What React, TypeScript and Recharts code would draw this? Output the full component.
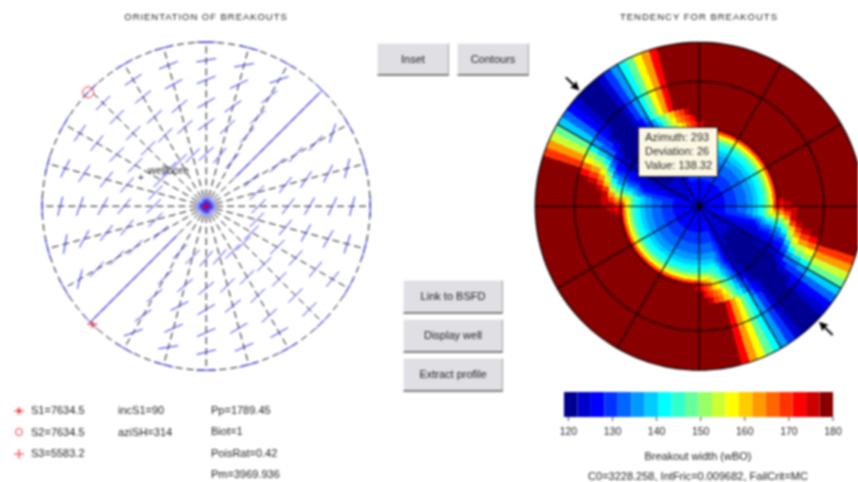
import { Bar, BarChart, Cell, Pie, PieChart, Scatter, ScatterChart, XAxis, YAxis } from 'recharts'

const FONT = '"Liberation Sans", Arial, sans-serif'

// left stereonet: spokes every 15 deg, tick rows at these projected radii
const spokeAzimuths = [0, 15, 30, 45, 60, 75, 90, 105, 120, 135, 150, 165, 180, 195, 210, 225, 240, 255, 270, 285, 300, 315, 330, 345]
const tickRadii = [1, 0.89, 0.77, 0.63, 0.5, 0.32]
const tickTrends = [
  [90, 80, 68, 60, 55, 48],
  [105, 80, 64, 55, 47, 40],
  [120, 71, 51, 48, 42, 42],
  [135, 45, 45, 45, 45, 45],
  [150, 18, 42, 42, 45, 48],
  [165, 14, 27, 34, 38, 45],
  [0, 15, 25, 30, 38, 45],
  [15, 18, 30, 29, 40, 45],
  [30, 40, 40, 42, 45, 45],
  [45, 45, 45, 45, 45, 45],
  [60, 60, 48, 45, 45, 45],
  [75, 66, 59, 51, 45, 41],
  [90, 76, 66, 59, 51, 40],
  [105, 81, 66, 63, 50, 45],
  [120, 70, 55, 50, 45, 45],
  [135, 45, 45, 45, 45, 45],
  [150, 14, 42, 45, 45, 48],
  [165, 10, 29, 38, 39, 45],
  [0, 14, 20, 30, 40, 45],
  [15, 27, 34, 39, 42, 45],
  [30, 35, 39, 45, 45, 45],
  [45, 45, 45, 45, 45, 45],
  [60, 56, 51, 48, 45, 45],
  [75, 68, 61, 50, 48, 45],
]
const coreRadii = [0.012, 0.028, 0.044]
const alignedAzimuths = [45, 225]
const alignedSpan = [0.24, 1]
const stressMarks = [
  { name: 'S1', az: 0, r: 0 },
  { name: 'S2', az: 314, r: 1 },
  { name: 'S3', az: 224, r: 1 },
]

// right map: breakout width per ring, 3 deg sectors over azimuth 0-180
// (the map repeats for azimuth 180-360)
const ringEdges = [0, 0.08, 0.16, 0.23, 0.29, 0.33, 0.36, 0.385, 0.41, 0.43, 0.45, 0.465, 0.48, 0.52, 0.56, 0.6, 0.64, 0.7, 0.76, 0.88, 1]
const ring01 = [
  127, 127, 127, 127, 127, 127, 127, 127, 127, 127, 127, 127, 127, 127, 127, 127, 127, 127, 127, 127,
  127, 127, 127, 127, 127, 127, 127, 127, 127, 127, 127, 127, 127, 127, 127, 127, 127, 127, 126, 126,
  126, 126, 126, 126, 126, 126, 126, 126, 126, 126, 126, 127, 127, 127, 127, 127, 127, 127, 127, 127,
]
const ring02 = [
  127, 127, 127, 127, 127, 127, 127, 127, 127, 127, 127, 127, 127, 127, 127, 127, 127, 127, 127, 127,
  127, 127, 127, 127, 127, 127, 127, 127, 127, 127, 127, 127, 127, 127, 127, 127, 126, 125, 125, 124,
  124, 124, 124, 124, 124, 124, 124, 124, 124, 125, 125, 126, 127, 127, 127, 127, 127, 127, 127, 127,
]
const ring03 = [
  129, 129, 129, 129, 129, 129, 129, 129, 129, 129, 129, 129, 129, 129, 129, 129, 129, 129, 129, 129,
  129, 129, 129, 129, 129, 129, 129, 129, 129, 129, 129, 129, 129, 129, 129, 128, 126, 125, 124, 124,
  123, 123, 123, 123, 123, 123, 123, 123, 124, 124, 125, 126, 128, 129, 129, 129, 129, 129, 129, 129,
]
const ring04 = [
  132, 132, 132, 132, 132, 132, 132, 132, 132, 132, 132, 132, 132, 132, 132, 132, 132, 132, 132, 132,
  132, 132, 132, 132, 132, 132, 132, 132, 132, 132, 132, 132, 132, 131, 129, 128, 126, 125, 124, 123,
  123, 122, 122, 122, 122, 122, 122, 122, 123, 124, 125, 127, 129, 131, 132, 132, 132, 132, 132, 132,
]
const ring05 = [
  135, 135, 135, 135, 135, 135, 135, 135, 135, 135, 135, 135, 135, 135, 135, 135, 135, 135, 135, 135,
  135, 135, 135, 135, 135, 135, 135, 135, 135, 135, 135, 135, 135, 133, 130, 128, 126, 125, 124, 123,
  122, 122, 121, 121, 121, 121, 121, 121, 122, 123, 124, 126, 129, 132, 135, 135, 135, 135, 135, 135,
]
const ring06 = [
  138, 138, 138, 138, 138, 138, 138, 138, 138, 138, 138, 138, 138, 138, 138, 138, 138, 138, 138, 138,
  138, 138, 138, 138, 138, 138, 138, 138, 138, 138, 138, 138, 138, 135, 131, 128, 126, 125, 124, 123,
  122, 122, 121, 121, 120, 120, 120, 121, 122, 123, 125, 127, 130, 133, 137, 138, 138, 138, 138, 138,
]
const ring07 = [
  141, 141, 141, 141, 141, 141, 141, 141, 141, 141, 141, 141, 141, 141, 141, 141, 141, 141, 141, 141,
  141, 141, 141, 141, 141, 141, 141, 141, 141, 141, 141, 141, 141, 137, 133, 129, 127, 125, 124, 123,
  122, 122, 121, 121, 120, 120, 120, 121, 122, 123, 125, 128, 131, 135, 139, 141, 141, 141, 141, 141,
]
const ring08 = [
  145, 145, 145, 145, 145, 145, 145, 145, 145, 145, 145, 145, 145, 145, 145, 145, 145, 145, 145, 145,
  145, 145, 145, 145, 145, 145, 145, 145, 145, 145, 145, 145, 145, 140, 136, 132, 129, 127, 125, 124,
  123, 122, 121, 121, 120, 120, 120, 121, 122, 124, 126, 129, 133, 137, 141, 144, 145, 145, 145, 145,
]
const ring09 = [
  152, 152, 152, 152, 152, 152, 152, 152, 152, 152, 152, 152, 152, 152, 152, 152, 152, 152, 152, 152,
  152, 152, 152, 152, 152, 152, 152, 152, 152, 152, 152, 152, 152, 143, 138, 133, 130, 127, 125, 124,
  123, 122, 121, 121, 120, 120, 120, 121, 122, 124, 127, 131, 135, 139, 143, 146, 149, 151, 152, 152,
]
const ring10 = [
  158, 158, 158, 158, 158, 158, 158, 158, 158, 158, 158, 158, 158, 158, 158, 158, 158, 158, 158, 158,
  158, 158, 158, 158, 158, 158, 158, 158, 158, 158, 158, 158, 151, 144, 139, 134, 130, 128, 126, 124,
  123, 122, 121, 121, 120, 120, 120, 121, 122, 125, 128, 132, 136, 140, 145, 149, 152, 155, 157, 158,
]
const ring11 = [
  165, 165, 165, 165, 165, 165, 165, 165, 165, 165, 165, 165, 165, 165, 165, 165, 165, 165, 165, 165,
  165, 165, 165, 165, 165, 165, 165, 165, 165, 165, 165, 160, 153, 146, 140, 135, 131, 128, 126, 124,
  123, 122, 121, 120, 120, 120, 120, 121, 123, 125, 129, 133, 137, 142, 147, 151, 155, 159, 162, 164,
]
const ring12 = [
  171, 171, 171, 171, 171, 171, 171, 171, 171, 171, 171, 171, 171, 171, 171, 171, 171, 171, 171, 171,
  171, 171, 171, 171, 171, 171, 171, 171, 171, 171, 170, 163, 155, 147, 141, 136, 132, 129, 127, 125,
  123, 122, 121, 120, 120, 120, 120, 121, 123, 126, 130, 134, 139, 144, 149, 154, 158, 162, 166, 169,
]
const ring13 = [
  175, 178, 180, 180, 180, 180, 180, 180, 180, 180, 180, 180, 180, 180, 180, 180, 180, 180, 180, 180,
  180, 180, 180, 180, 180, 180, 180, 178, 175, 172, 168, 162, 155, 147, 141, 136, 132, 129, 127, 125,
  123, 122, 121, 120, 120, 120, 120, 121, 124, 127, 131, 136, 141, 147, 152, 157, 161, 165, 169, 172,
]
const ring14 = [
  178, 180, 180, 180, 180, 180, 180, 180, 180, 180, 180, 180, 180, 180, 180, 180, 180, 180, 180, 180,
  180, 180, 180, 180, 180, 180, 180, 180, 178, 175, 174, 170, 162, 155, 148, 141, 135, 131, 128, 126,
  124, 122, 121, 120, 120, 120, 120, 122, 125, 129, 134, 140, 146, 152, 157, 162, 166, 169, 173, 177,
]
const ring15 = [
  180, 180, 180, 180, 180, 180, 180, 180, 180, 180, 180, 180, 180, 180, 180, 180, 180, 180, 180, 180,
  180, 180, 180, 180, 180, 180, 180, 180, 178, 178, 176, 176, 176, 168, 161, 154, 147, 140, 134, 130,
  127, 124, 122, 121, 120, 120, 120, 123, 126, 130, 136, 142, 149, 155, 161, 166, 170, 174, 178, 180,
]
const ring16 = [
  180, 180, 180, 180, 180, 180, 180, 180, 180, 180, 180, 180, 180, 180, 180, 180, 180, 180, 180, 180,
  180, 180, 180, 180, 180, 180, 180, 180, 180, 180, 180, 180, 180, 176, 170, 164, 157, 150, 143, 137,
  132, 128, 124, 122, 120, 120, 121, 124, 128, 133, 141, 148, 156, 164, 172, 177, 180, 180, 180, 180,
]
const ring17 = [
  180, 180, 180, 180, 180, 180, 180, 180, 180, 180, 180, 180, 180, 180, 180, 180, 180, 180, 180, 180,
  180, 180, 180, 180, 180, 180, 180, 180, 180, 180, 180, 180, 180, 180, 176, 170, 163, 155, 147, 140,
  134, 129, 125, 122, 121, 120, 121, 125, 130, 135, 142, 149, 157, 164, 172, 180, 180, 180, 180, 180,
]
const ring18 = [
  180, 180, 180, 180, 180, 180, 180, 180, 180, 180, 180, 180, 180, 180, 180, 180, 180, 180, 180, 180,
  180, 180, 180, 180, 180, 180, 180, 180, 180, 180, 180, 180, 180, 180, 180, 172, 165, 158, 150, 142,
  135, 129, 126, 123, 121, 120, 122, 125, 130, 135, 142, 149, 157, 164, 172, 180, 180, 180, 180, 180,
]
const ring19 = [
  180, 180, 180, 180, 180, 180, 180, 180, 180, 180, 180, 180, 180, 180, 180, 180, 180, 180, 180, 180,
  180, 180, 180, 180, 180, 180, 180, 180, 180, 180, 180, 180, 180, 180, 180, 180, 169, 162, 155, 147,
  140, 133, 128, 125, 122, 120, 122, 125, 130, 135, 142, 149, 157, 164, 172, 180, 180, 180, 180, 180,
]
const ringRows = [ring01, ring02, ring03, ring04, ring05, ring06, ring07, ring08, ring09, ring10, ring11, ring12, ring13, ring14, ring15, ring16, ring17, ring18, ring19, ring19]

const mapGridRadii = [0.48, 0.76, 1]
const mapSpokes = [0, 30, 60, 90, 120, 150, 180, 210, 240, 270, 300, 330]
const arrowAzimuths = [314, 134]

const jetColors = [
  '#000090', '#0000CC', '#0000FF', '#0033FF', '#0066FF', '#0099FF', '#00CCFF', '#00FFFF', '#33FFCC', '#66FF99',
  '#99FF66', '#CCFF33', '#FFFF00', '#FFCC00', '#FF9900', '#FF6600', '#FF3300', '#FF0000', '#CC0000', '#880000',
]
const colorTicks = [120, 130, 140, 150, 160, 170, 180]
const colorStart = 119
const colorStep = 3.05

const stressLegend = ['S1=7634.5', 'S2=7634.5', 'S3=5583.2']
const orientationLegend = ['incS1=90', 'aziSH=314']
const rockLegend = ['Pp=1789.45', 'Biot=1', 'PoisRat=0.42', 'Pm=3969.936']
const tooltipLines = ['Azimuth: 293', 'Deviation: 26', 'Value: 138.32']

const colorOf = (v: number) => jetColors[Math.min(19, Math.floor((v - 120) / 3))]
const polar = (az: number, r: number) => {
  const a = (az * Math.PI) / 180
  return { x: r * Math.sin(a), y: r * Math.cos(a) }
}

const CHART = 344.4
const RADIUS = 164
const LIMIT = (CHART / 2 / RADIUS)

const unitCircle = Array.from({ length: 181 }, (_, i) => i * 2)

const tickData = tickTrends.flatMap((row, i) =>
  row.map((trend, j) => ({ ...polar(spokeAzimuths[i], tickRadii[j]), trend, len: 20 })),
)
const coreData = coreRadii.flatMap((r) =>
  spokeAzimuths.map((az) => ({ ...polar(az, r), trend: az, len: 6 })),
)

const TickMark = (props: any) => {
  const { cx, cy, payload } = props
  const a = (payload.trend * Math.PI) / 180
  const dx = (Math.sin(a) * payload.len) / 2
  const dy = (Math.cos(a) * payload.len) / 2
  return <line x1={cx - dx} y1={cy + dy} x2={cx + dx} y2={cy - dy} stroke="#2a2aee" strokeWidth={1} />
}

const StressMark = (props: any) => {
  const { cx, cy, payload } = props
  if (payload.name === 'S2') return <circle cx={cx} cy={cy} r={5.5} fill="none" stroke="#ee3333" strokeWidth={1} />
  if (payload.name === 'S3') return <path d={`M${cx - 5} ${cy}H${cx + 5}M${cx} ${cy - 4}V${cy + 4}`} stroke="#ee2222" strokeWidth={1.2} />
  return <path d={`M${cx - 3} ${cy}H${cx + 3}M${cx} ${cy - 3}V${cy + 3}M${cx - 2} ${cy - 2}L${cx + 2} ${cy + 2}M${cx - 2} ${cy + 2}L${cx + 2} ${cy - 2}`} stroke="#cc0033" strokeWidth={1.4} />
}

const ArrowMark = (props: any) => {
  const { cx, cy, payload } = props
  return (
    <g transform={`translate(${cx} ${cy}) rotate(${payload.az})`}>
      <path d="M0 0L-4.5 -9L-1 -8V-19H1V-8L4.5 -9Z" fill="#000" />
    </g>
  )
}

const Hidden = () => <g />

const PolarAxes = () => (
  <>
    <XAxis type="number" dataKey="x" domain={[-LIMIT, LIMIT]} hide />
    <YAxis type="number" dataKey="y" domain={[-LIMIT, LIMIT]} hide />
  </>
)

const Text = ({ x, y, size = 11, w, align = 'left', spacing = 0, children }: any) => (
  <div
    style={{
      position: 'absolute',
      left: x,
      top: y,
      width: w,
      fontSize: size,
      lineHeight: '12px',
      letterSpacing: spacing,
      color: '#222',
      textAlign: align,
      whiteSpace: 'nowrap',
    }}
  >
    {children}
  </div>
)

const Btn = ({ x, y, w, h, label }: any) => (
  <div
    style={{
      position: 'absolute',
      left: x,
      top: y,
      width: w,
      height: h,
      boxSizing: 'border-box',
      background: '#dfdfe4',
      borderTop: '1px solid #f4f4f6',
      borderLeft: '1px solid #f4f4f6',
      borderRight: '1px solid #a0a0a0',
      borderBottom: '2px solid #808080',
      color: '#222',
      fontSize: 11,
      lineHeight: `${h - 3}px`,
      textAlign: 'center',
    }}
  >
    {label}
  </div>
)

const LegendIcon = ({ y, kind }: any) => (
  <svg style={{ position: 'absolute', left: 13, top: y - 6 }} width={12} height={12}>
    {kind === 0 && <path d="M1 6H11M6 2V10M4 4L8 8M4 8L8 4" stroke="#ee2222" strokeWidth={1} />}
    {kind === 1 && <circle cx={6} cy={6} r={3.5} fill="none" stroke="#ee3333" />}
    {kind === 2 && <path d="M1 6H11M6 1V11" stroke="#ee2222" strokeWidth={1} />}
  </svg>
)

export default function App() {
  const colorRow: Record<string, number> = { offset: colorStart }
  jetColors.forEach((_, i) => {
    colorRow[`c${i}`] = colorStep
  })

  return (
    <div
      style={{
        position: 'absolute',
        left: 0,
        top: 0,
        width: 858,
        height: 482,
        overflow: 'hidden',
        background: '#fff',
        fontFamily: FONT,
        filter: 'blur(0.8px)',
      }}
    >
      <Text x={34} y={11} w={344} size={9.5} spacing={0.95} align="center">ORIENTATION OF BREAKOUTS</Text>
      <Text x={527} y={11} w={344} size={9.5} spacing={1} align="center">TENDENCY FOR BREAKOUTS</Text>

      {/* left stereonet */}
      <div style={{ position: 'absolute', left: 206.5 - CHART / 2, top: 206 - CHART / 2 }}>
        <ScatterChart width={CHART} height={CHART} margin={{ top: 0, right: 0, bottom: 0, left: 0 }}>
          {PolarAxes()}
          <Scatter
            data={unitCircle.map((az) => polar(az, 1))}
            line={{ stroke: '#111', strokeWidth: 1, strokeDasharray: '7 4' }}
            shape={Hidden}
            isAnimationActive={false}
          />
          {spokeAzimuths.map((az) => (
            <Scatter
              key={az}
              data={[polar(az, 0.06), polar(az, 1)]}
              line={{ stroke: '#111', strokeWidth: 1, strokeDasharray: '7 4' }}
              shape={Hidden}
              isAnimationActive={false}
            />
          ))}
          {alignedAzimuths.map((az) => (
            <Scatter
              key={az}
              data={alignedSpan.map((r) => polar(az, r))}
              line={{ stroke: '#2a2aee', strokeWidth: 1 }}
              shape={Hidden}
              isAnimationActive={false}
            />
          ))}
          <Scatter data={tickData} shape={TickMark} isAnimationActive={false} />
          <Scatter data={coreData} shape={TickMark} isAnimationActive={false} />
          <Scatter data={stressMarks.map((m) => ({ ...m, ...polar(m.az, m.r) }))} shape={StressMark} isAnimationActive={false} />
        </ScatterChart>
      </div>
      <Text x={148} y={164}>wellbore</Text>
      <Text x={138} y={172} size={10}>+</Text>

      {/* right map */}
      <div style={{ position: 'absolute', left: 699.3 - CHART / 2, top: 206 - CHART / 2 }}>
        <PieChart width={CHART} height={CHART} margin={{ top: 0, right: 0, bottom: 0, left: 0 }}>
          {ringRows.map((row, i) => {
            const cells = [...row, ...row]
            return (
              <Pie
                key={i}
                data={cells.map((value) => ({ value, span: 1 }))}
                dataKey="span"
                cx="50%"
                cy="50%"
                innerRadius={ringEdges[i] * RADIUS}
                outerRadius={ringEdges[i + 1] * RADIUS}
                startAngle={90}
                endAngle={-270}
                stroke="none"
                shapeRendering="crispEdges"
                isAnimationActive={false}
              >
                {cells.map((v, j) => (
                  <Cell key={j} fill={colorOf(v)} stroke="none" shapeRendering="crispEdges" />
                ))}
              </Pie>
            )
          })}
        </PieChart>
      </div>
      <div style={{ position: 'absolute', left: 699.3 - CHART / 2, top: 206 - CHART / 2 }}>
        <ScatterChart width={CHART} height={CHART} margin={{ top: 0, right: 0, bottom: 0, left: 0 }}>
          {PolarAxes()}
          {mapGridRadii.map((r) => (
            <Scatter
              key={r}
              data={unitCircle.map((az) => polar(az, r))}
              line={{ stroke: '#000', strokeWidth: 1.1 }}
              shape={Hidden}
              isAnimationActive={false}
            />
          ))}
          {mapSpokes.map((az) => (
            <Scatter
              key={az}
              data={[polar(az, 0), polar(az, 1)]}
              line={{ stroke: '#000', strokeWidth: 1.1 }}
              shape={Hidden}
              isAnimationActive={false}
            />
          ))}
          <Scatter data={arrowAzimuths.map((az) => ({ az, ...polar(az, 1.015) }))} shape={ArrowMark} isAnimationActive={false} />
        </ScatterChart>
      </div>

      {/* pick readout */}
      <div
        style={{
          position: 'absolute',
          left: 638,
          top: 127,
          width: 80,
          height: 50,
          boxSizing: 'border-box',
          background: '#fdf8e4',
          border: '1px solid #333',
          padding: '2px 0 0 6px',
          fontSize: 11,
          lineHeight: '14px',
          color: '#222',
        }}
      >
        {tooltipLines.map((t) => (
          <div key={t}>{t}</div>
        ))}
      </div>

      <Btn x={377} y={43} w={72} h={33} label="Inset" />
      <Btn x={457} y={43} w={72} h={33} label="Contours" />
      <Btn x={403} y={280} w={100} h={34} label="Link to BSFD" />
      <Btn x={403} y={319} w={100} h={34} label="Display well" />
      <Btn x={403} y={358} w={100} h={34} label="Extract profile" />

      {stressLegend.map((t, i) => (
        <div key={t}>
          <LegendIcon y={410.5 + i * 21.5} kind={i} />
          <Text x={31} y={404 + i * 21.5}>{t}</Text>
        </div>
      ))}
      {orientationLegend.map((t, i) => (
        <Text key={t} x={118} y={404 + i * 21.5}>{t}</Text>
      ))}
      {rockLegend.map((t, i) => (
        <Text key={t} x={211} y={404 + i * 21.3}>{t}</Text>
      ))}

      {/* colour bar */}
      <div style={{ position: 'absolute', left: 540, top: 392 }}>
        <BarChart
          width={318}
          height={57}
          layout="vertical"
          data={[colorRow]}
          barCategoryGap={0}
          margin={{ top: 0, right: 25, bottom: 0, left: 24 }}
        >
          <XAxis
            type="number"
            domain={[colorStart, 180]}
            ticks={colorTicks}
            allowDataOverflow
            height={32}
            interval={0}
            axisLine={false}
            tickSize={4}
            tickMargin={7}
            tickLine={{ stroke: '#444' }}
            tick={{ fontSize: 10.5, fill: '#222', fontFamily: FONT }}
          />
          <YAxis type="category" hide />
          <Bar dataKey="offset" stackId="bar" fill="none" isAnimationActive={false} />
          {jetColors.map((color, i) => (
            <Bar key={color} dataKey={`c${i}`} stackId="bar" fill={color} isAnimationActive={false} />
          ))}
        </BarChart>
      </div>
      <Text x={540} y={450} w={316} align="center">Breakout width (wBO)</Text>
      <Text x={540} y={470} w={316} align="center">C0=3228.258, IntFric=0.009682, FailCrit=MC</Text>
    </div>
  )
}
